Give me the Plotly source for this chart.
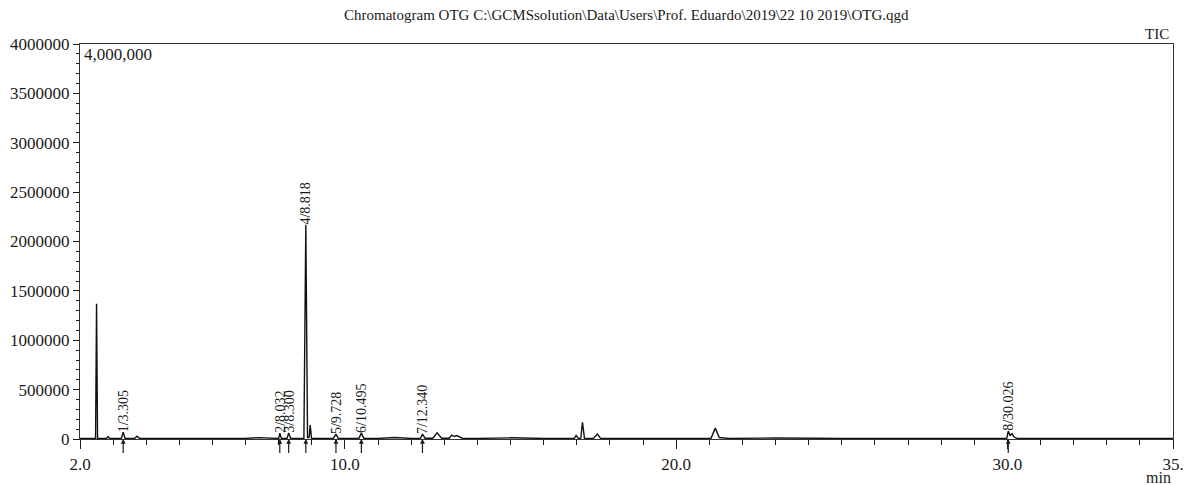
import plotly.graph_objects as go

# Chromatogram trace (retention time in min, intensity)
times = [2.0, 2.3, 2.47, 2.50, 2.53, 2.8, 2.85, 2.9, 3.25, 3.305, 3.36, 3.65, 3.72, 3.8,
         4.5, 5.0, 5.5, 6.5, 7.0, 7.4, 7.9, 8.00, 8.032, 8.08, 8.25, 8.30, 8.36,
         8.76, 8.818, 8.87, 8.92, 8.95, 8.99, 9.3, 9.65, 9.728, 9.80, 10.1, 10.42, 10.495,
         10.57, 11.0, 11.5, 12.0, 12.28, 12.34, 12.42, 12.65, 12.78, 12.92, 13.15, 13.22,
         13.30, 13.38, 13.46, 13.55, 14.0, 15.0, 16.0, 16.92, 16.98, 17.05, 17.12, 17.17,
         17.23, 17.5, 17.62, 17.72, 18.5, 19.5, 20.5, 21.05, 21.18, 21.3, 21.6, 23.0,
         25.0, 27.0, 29.0, 29.9, 29.98, 30.026, 30.08, 30.14, 30.2, 30.3, 31.0, 32.0,
         33.0, 34.0, 35.0]
intensity = [5000, 5000, 5000, 1370000, 5000, 5000, 25000, 6000, 6000, 70000, 6000, 6000, 28000, 6000,
             6000, 6000, 12000, 6000, 6000, 14000, 6000, 6000, 60000, 6000, 6000, 60000, 6000,
             8000, 2170000, 10000, 20000, 140000, 8000, 6000, 6000, 50000, 6000, 6000, 6000, 60000,
             6000, 6000, 15000, 6000, 6000, 50000, 8000, 8000, 62000, 8000, 8000, 40000,
             25000, 35000, 22000, 6000, 6000, 12000, 6000, 6000, 35000, 6000, 8000, 170000,
             8000, 6000, 50000, 6000, 6000, 6000, 6000, 6000, 110000, 15000, 6000, 10000,
             6000, 6000, 6000, 6000, 6000, 80000, 35000, 55000, 20000, 6000, 6000, 8000,
             6000, 12000, 6000]

# Identified peaks
peak_ids = ["1", "2", "3", "4", "5", "6", "7", "8"]
peak_times = [3.305, 8.032, 8.300, 8.818, 9.728, 10.495, 12.340, 30.026]
peak_heights = [70000, 60000, 60000, 2170000, 50000, 60000, 50000, 80000]

x_tickvals = [2.0, 10.0, 20.0, 30.0, 35.0]
x_ticktext = ["2.0", "10.0", "20.0", "30.0", "35."]
y_tickvals = [0, 500000, 1000000, 1500000, 2000000, 2500000, 3000000, 3500000, 4000000]

title_text = "Chromatogram OTG C:\\GCMSsolution\\Data\\Users\\Prof. Eduardo\\2019\\22 10 2019\\OTG.qgd"

FONT = "Liberation Serif"
INK = "#1a1a1a"

fig = go.Figure()
fig.add_trace(go.Scatter(x=times, y=intensity, mode="lines",
                         line=dict(color="#111111", width=1.4), hoverinfo="skip",
                         showlegend=False))

annotations = []
for pid, t, h in zip(peak_ids, peak_times, peak_heights):
    annotations.append(dict(x=t, y=h, xref="x", yref="y", text=f"{pid}/{t:.3f}",
                            showarrow=False, textangle=-90, xanchor="center",
                            yanchor="bottom", yshift=-2,
                            font=dict(family=FONT, size=14, color=INK)))
    annotations.append(dict(x=t, y=0, xref="x", yref="y", text=" ",
                            showarrow=True, ax=0, ay=16, arrowhead=2, arrowsize=0.8,
                            arrowwidth=1.2, arrowcolor=INK,
                            font=dict(size=1)))

annotations += [
    dict(x=0.5, y=1.0, xref="paper", yref="paper", yshift=29, text=title_text,
         showarrow=False, xanchor="center", yanchor="middle",
         font=dict(family=FONT, size=15, color=INK)),
    dict(x=1.0, y=1.0, xref="paper", yref="paper", yshift=10, xshift=-2, text="TIC",
         showarrow=False, xanchor="right", yanchor="middle",
         font=dict(family=FONT, size=15, color=INK)),
    dict(x=0.0, y=1.0, xref="paper", yref="paper", xshift=2, yshift=-10, text="4,000,000",
         showarrow=False, xanchor="left", yanchor="middle",
         font=dict(family=FONT, size=17, color=INK)),
    dict(x=1.0, y=0.0, xref="paper", yref="paper", yshift=-38, xshift=0, text="min",
         showarrow=False, xanchor="right", yanchor="middle",
         font=dict(family=FONT, size=16, color=INK)),
]

fig.update_layout(
    width=1186, height=485,
    margin=dict(l=80, r=13, t=44, b=46),
    paper_bgcolor="white", plot_bgcolor="white",
    font=dict(family=FONT, size=17, color=INK),
    annotations=annotations,
    showlegend=False,
)
fig.update_xaxes(range=[2.0, 35.0], tickvals=x_tickvals, ticktext=x_ticktext,
                 automargin=False,
                 ticks="outside", ticklen=9, tickwidth=1.2, tickcolor=INK,
                 showline=True, linecolor="#333333", linewidth=1.3, mirror=True,
                 showgrid=False, zeroline=False,
                 tickfont=dict(family=FONT, size=17, color=INK),
                 minor=dict(dtick=1, tick0=2, ticks="outside", ticklen=5, tickcolor=INK,
                            showgrid=False))
fig.update_yaxes(range=[0, 4000000], tickvals=y_tickvals, tickformat="d",
                 automargin=False,
                 ticks="outside", ticklen=6, tickwidth=1.2, tickcolor=INK,
                 showline=True, linecolor="#333333", linewidth=1.3, mirror=True,
                 showgrid=False, zeroline=False,
                 tickfont=dict(family=FONT, size=17, color=INK),
                 minor=dict(dtick=100000, tick0=0, ticks="outside", ticklen=3,
                            tickcolor=INK, showgrid=False))

fig.write_html("out.html", config={"displayModeBar": False},
               post_script="document.body.style.margin='0';document.body.style.overflow='hidden';")
